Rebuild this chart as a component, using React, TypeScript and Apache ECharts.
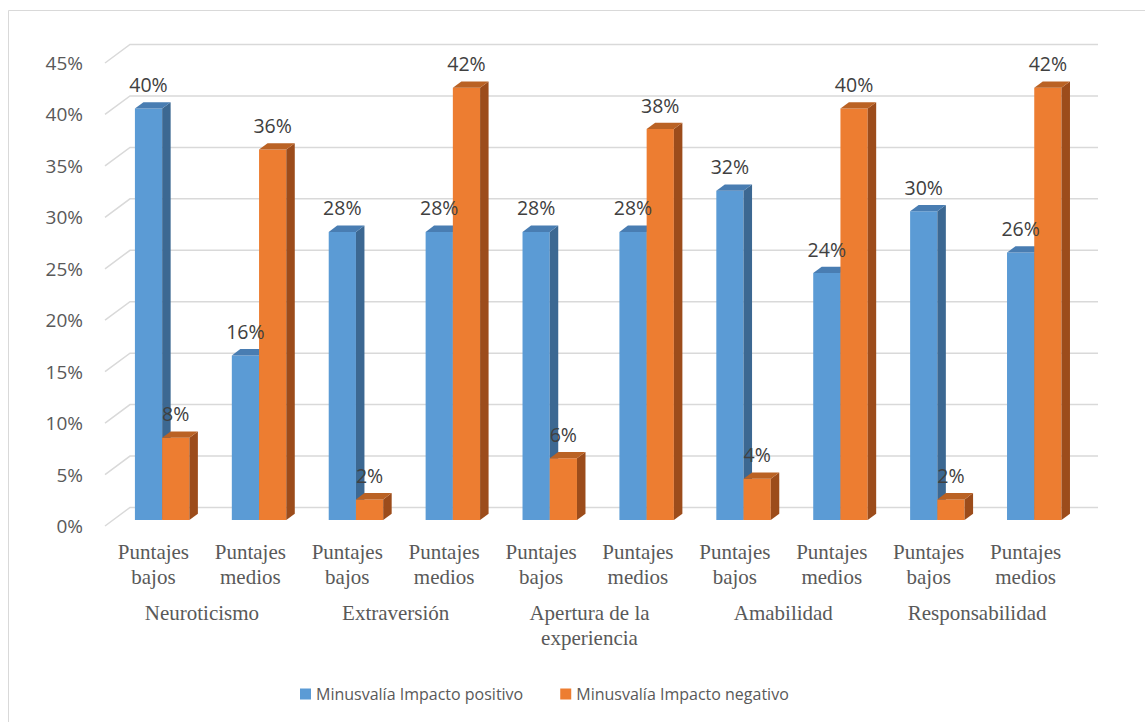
import React, { useEffect, useRef } from "react";
import * as echarts from "echarts";

const categories = [
  "Puntajes\nbajos", "Puntajes\nmedios",
  "Puntajes\nbajos", "Puntajes\nmedios",
  "Puntajes\nbajos", "Puntajes\nmedios",
  "Puntajes\nbajos", "Puntajes\nmedios",
  "Puntajes\nbajos", "Puntajes\nmedios",
];
const groups = ["Neuroticismo", "Extraversión", "Apertura de la\nexperiencia", "Amabilidad", "Responsabilidad"];
const seriesNames = ["Minusvalía Impacto positivo", "Minusvalía Impacto negativo"];
const positivo = [40, 16, 28, 28, 28, 28, 32, 24, 30, 26];
const negativo = [8, 36, 2, 42, 6, 38, 4, 40, 2, 42];
const yTicks = [0, 5, 10, 15, 20, 25, 30, 35, 40, 45];

const FRONT = ["#5B9BD5", "#ED7D31"];
const SIDE = ["#3C6892", "#9C4C1B"];
const TOP = ["#497DB2", "#BA6224"];

const SHIFT_X = 8.7;
const SHIFT_Y = -6;
const DEPTH_X = 8.5;
const DEPTH_Y = -6.3;
const BAR_FRAC = 0.281;

function barRender(s: number) {
  return (params: any, api: any) => {
    const idx = api.value(0);
    const v = api.value(1);
    const [cx, yTop] = api.coord([idx, v]);
    const [, y0] = api.coord([idx, 0]);
    const band = api.size([1, 0])[0];
    const bw = band * BAR_FRAC;
    const left = cx + SHIFT_X + (s === 0 ? -bw : 0);
    const right = left + bw;
    const top = yTop + SHIFT_Y;
    const bottom = y0 + SHIFT_Y;
    return {
      type: "group",
      children: [
        { type: "rect", shape: { x: left, y: top, width: bw, height: bottom - top }, style: { fill: FRONT[s] } },
        {
          type: "polygon",
          shape: { points: [[right, top], [right + DEPTH_X, top + DEPTH_Y], [right + DEPTH_X, bottom + DEPTH_Y], [right, bottom]] },
          style: { fill: SIDE[s] },
        },
        {
          type: "polygon",
          shape: { points: [[left, top], [left + DEPTH_X, top + DEPTH_Y], [right + DEPTH_X, top + DEPTH_Y], [right, top]] },
          style: { fill: TOP[s] },
        },
      ],
    };
  };
}

export default function App() {
  const ref = useRef<HTMLDivElement>(null);
  useEffect(() => {
    if (!ref.current) return;
    const chart = echarts.init(ref.current, undefined, { renderer: "svg" });
    const labelData: number[][] = [];
    positivo.forEach((v, i) => labelData.push([i, v, 0]));
    negativo.forEach((v, i) => labelData.push([i, v, 1]));
    chart.setOption({
      animation: false,
      backgroundColor: "#ffffff",
      graphic: [
        {
          type: "rect",
          left: 6,
          top: 8,
          shape: { width: 1160, height: 740 },
          style: { fill: "none", stroke: "#d9d9d9", lineWidth: 1 },
          silent: true,
        },
      ],
      grid: { left: 105, right: 71, top: 63, bottom: 196 },
      legend: {
        data: seriesNames,
        left: 295,
        top: 681,
        icon: "rect",
        itemWidth: 11,
        itemHeight: 11,
        itemGap: 37,
        textStyle: { color: "#595959", fontSize: 16, fontFamily: "Open Sans" },
      },
      xAxis: [
        {
          type: "category",
          data: categories,
          axisLine: { show: false },
          axisTick: { show: false },
          splitLine: { show: false },
          axisLabel: {
            interval: 0,
            margin: 13,
            color: "#595959",
            fontSize: 21,
            lineHeight: 25,
            fontFamily: "Liberation Serif",
          },
        },
        {
          type: "category",
          data: groups,
          position: "bottom",
          axisLine: { show: false },
          axisTick: { show: false },
          splitLine: { show: false },
          axisLabel: {
            interval: 0,
            margin: 74,
            color: "#595959",
            fontSize: 21,
            lineHeight: 25,
            fontFamily: "Liberation Serif",
          },
        },
      ],
      yAxis: {
        type: "value",
        min: 0,
        max: 45,
        interval: 5,
        axisLine: { show: false },
        axisTick: { show: false },
        splitLine: { show: false },
        axisLabel: {
          formatter: "{value}%",
          margin: 22,
          color: "#595959",
          fontSize: 19,
          fontFamily: "Open Sans",
        },
      },
      series: [
        {
          type: "custom",
          name: "grid",
          silent: true,
          clip: false,
          z: 1,
          data: yTicks.map((v) => [0, v]),
          renderItem: (params: any, api: any) => {
            const v = api.value(1);
            const y = api.coord([0, v])[1];
            const cs = params.coordSys;
            return {
              type: "polyline",
              shape: {
                points: [
                  [cs.x, y],
                  [cs.x + 25, y - 18.5],
                  [cs.x + cs.width + 24, y - 18.5],
                ],
              },
              style: { stroke: "#d9d9d9", lineWidth: 1.5, fill: "none" },
            };
          },
        },
        {
          type: "custom",
          name: seriesNames[0],
          clip: false,
          z: 2,
          itemStyle: { color: FRONT[0] },
          data: positivo.map((v, i) => [i, v]),
          renderItem: barRender(0),
        },
        {
          type: "custom",
          name: seriesNames[1],
          clip: false,
          z: 3,
          itemStyle: { color: FRONT[1] },
          data: negativo.map((v, i) => [i, v]),
          renderItem: barRender(1),
        },
        {
          type: "custom",
          name: "labels",
          silent: true,
          clip: false,
          z: 4,
          data: labelData,
          renderItem: (params: any, api: any) => {
            const idx = api.value(0);
            const v = api.value(1);
            const s = api.value(2);
            const [cx, yTop] = api.coord([idx, v]);
            const bw = api.size([1, 0])[0] * BAR_FRAC;
            const x = cx + SHIFT_X + (s === 0 ? -bw / 2 : bw / 2);
            return {
              type: "text",
              style: {
                text: v + "%",
                x,
                y: yTop + SHIFT_Y - 24,
                align: "center",
                verticalAlign: "middle",
                fill: "#404040",
                fontSize: 19.5,
                fontFamily: "Open Sans",
              },
            };
          },
        },
      ],
    });
    return () => chart.dispose();
  }, []);
  return (
    <div
      ref={ref}
      style={{ position: "fixed", left: 0, top: 0, width: 1145, height: 722 }}
    />
  );
}
